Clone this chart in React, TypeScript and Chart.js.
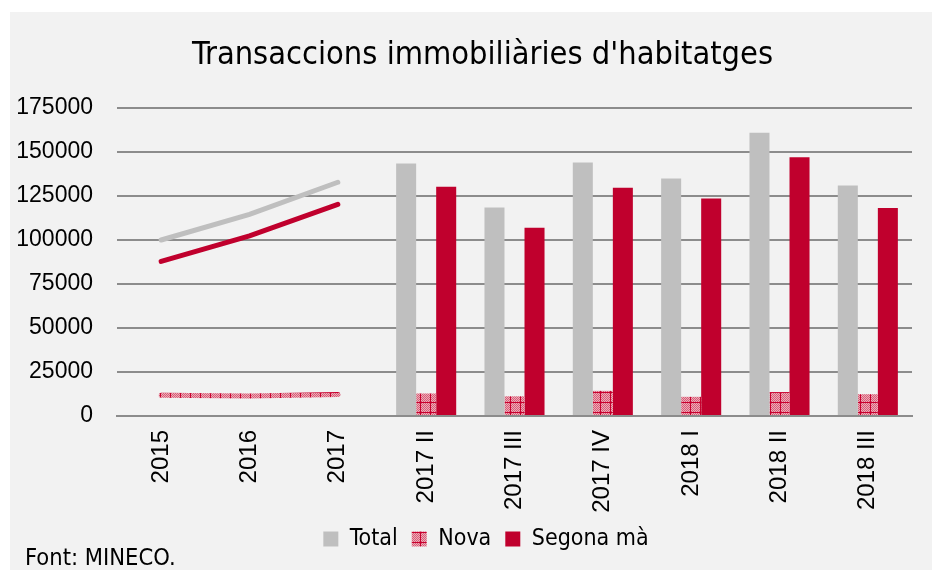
import React, { useEffect, useRef } from "react";
import { Chart, registerables } from "chart.js";

Chart.register(...registerables);

const categories = ["2015", "2016", "2017", "2017 II", "2017 III", "2017 IV", "2018 I", "2018 II", "2018 III"];

// annual values (lines)
const totalAnnual = [100000, 114500, 132800, null, null, null, null, null, null];
const novaAnnual = [11800, 11400, 12200, null, null, null, null, null, null];
const segonaAnnual = [87800, 102300, 120200, null, null, null, null, null, null];

// quarterly values (bars)
const totalQuarter = [null, null, null, 143400, 118500, 144000, 134900, 160900, 130900];
const novaQuarter = [null, null, null, 12800, 11200, 14300, 10900, 13600, 12400];
const segonaQuarter = [null, null, null, 130300, 107000, 129600, 123500, 147000, 118200];

const yTicks = [0, 25000, 50000, 75000, 100000, 125000, 150000, 175000];

const NARROW = '"DejaVu Sans Condensed", "Liberation Sans Narrow", sans-serif';
const SANS = '"Liberation Sans", Arial, sans-serif';

function makePattern(ctx: CanvasRenderingContext2D): CanvasPattern | string {
  const c = document.createElement("canvas");
  c.width = 10;
  c.height = 10;
  const g = c.getContext("2d");
  if (!g) return "#e07a90";
  g.fillStyle = "#eeaab6";
  g.fillRect(0, 0, 10, 10);
  g.fillStyle = "#d65d78";
  for (let y = 0; y < 10; y++) {
    for (let x = 0; x < 10; x++) {
      if ((x + y) % 2 === 0) g.fillRect(x, y, 1, 1);
    }
  }
  g.fillStyle = "#c8002e";
  g.fillRect(0, 0, 10, 1);
  g.fillRect(0, 0, 1, 10);
  return ctx.createPattern(c, "repeat") || "#e07a90";
}

const boxShift = {
  id: "boxShift",
  afterLayout(chart: any) {
    if (chart.legend) {
      chart.legend.left += 50;
    }
    if (chart.titleBlock) {
      chart.titleBlock.left += 43;
    }
  },
};

export default function App() {
  const ref = useRef<HTMLCanvasElement | null>(null);

  useEffect(() => {
    const canvas = ref.current;
    if (!canvas) return;
    const ctx = canvas.getContext("2d");
    if (!ctx) return;
    const pattern = makePattern(ctx);

    const chart = new Chart(ctx, {
      type: "bar",
      data: {
        labels: categories,
        datasets: [
          { type: "bar", label: "Total", data: totalQuarter, backgroundColor: "#bfbfbf", barPercentage: 1, categoryPercentage: 0.68 },
          { type: "bar", label: "Nova", data: novaQuarter, backgroundColor: pattern as any, barPercentage: 1, categoryPercentage: 0.68 },
          { type: "bar", label: "Segona mà", data: segonaQuarter, backgroundColor: "#c0002d", barPercentage: 1, categoryPercentage: 0.68 },
          { type: "line", label: "Total anual", data: totalAnnual, borderColor: "#bfbfbf", borderWidth: 5, borderCapStyle: "round", pointRadius: 0, tension: 0, spanGaps: false },
          { type: "line", label: "Nova anual", data: novaAnnual, borderColor: pattern as any, borderWidth: 5, borderCapStyle: "round", pointRadius: 0, tension: 0, spanGaps: false },
          { type: "line", label: "Segona mà anual", data: segonaAnnual, borderColor: "#c0002d", borderWidth: 5, borderCapStyle: "round", pointRadius: 0, tension: 0, spanGaps: false },
        ] as any,
      },
      plugins: [boxShift],
      options: {
        animation: false,
        responsive: false,
        maintainAspectRatio: false,
        layout: { padding: { left: 0, right: 28, top: 0, bottom: 9.5 } },
        plugins: {
          tooltip: { enabled: false },
          title: {
            display: true,
            text: "Transaccions immobiliàries d'habitatges",
            color: "#000",
            font: { family: NARROW, size: 32.3, weight: "normal" },
            padding: { top: 24.6, bottom: 32.6 },
          },
          legend: {
            position: "bottom",
            labels: {
              filter: (item: any) => item.datasetIndex < 3,
              boxWidth: 15,
              boxHeight: 15,
              color: "#000",
              font: { family: NARROW, size: 23 },
              padding: 14,
            },
          },
        },
        scales: {
          x: {
            afterFit: (scale: any) => {
              scale.height = 97.5;
            },
            grid: { display: false },
            border: { display: true, color: "#8c8c8c", width: 2 },
            ticks: {
              color: "#000",
              font: { family: SANS, size: 24 },
              maxRotation: 90,
              minRotation: 90,
              padding: 6,
              autoSkip: false,
            },
          },
          y: {
            min: 0,
            max: 175000,
            afterBuildTicks: (scale: any) => {
              scale.ticks = yTicks.map((v) => ({ value: v }));
            },
            afterFit: (scale: any) => {
              scale.width = 107;
            },
            grid: { color: "#8c8c8c", lineWidth: 2, drawTicks: false },
            border: { display: false },
            ticks: {
              color: "#000",
              font: { family: SANS, size: 23 },
              padding: 24,
              callback: (v: any) => String(v),
            },
          },
        },
      },
    });
    return () => chart.destroy();
  }, []);

  return (
    <div style={{ width: 932, height: 562, paddingTop: 4, paddingLeft: 2, boxSizing: "border-box" }}>
      <div style={{ position: "relative", width: 930, height: 558, background: "#f2f2f2" }}>
        <canvas ref={ref} width={930} height={558} style={{ display: "block", width: 930, height: 558 }} />
        <div
          style={{
            position: "absolute",
            left: 15,
            top: 533,
            fontFamily: NARROW,
            fontSize: 23.5,
            lineHeight: "25px",
            color: "#000",
            whiteSpace: "nowrap",
          }}
        >
          Font: MINECO.
        </div>
      </div>
    </div>
  );
}
